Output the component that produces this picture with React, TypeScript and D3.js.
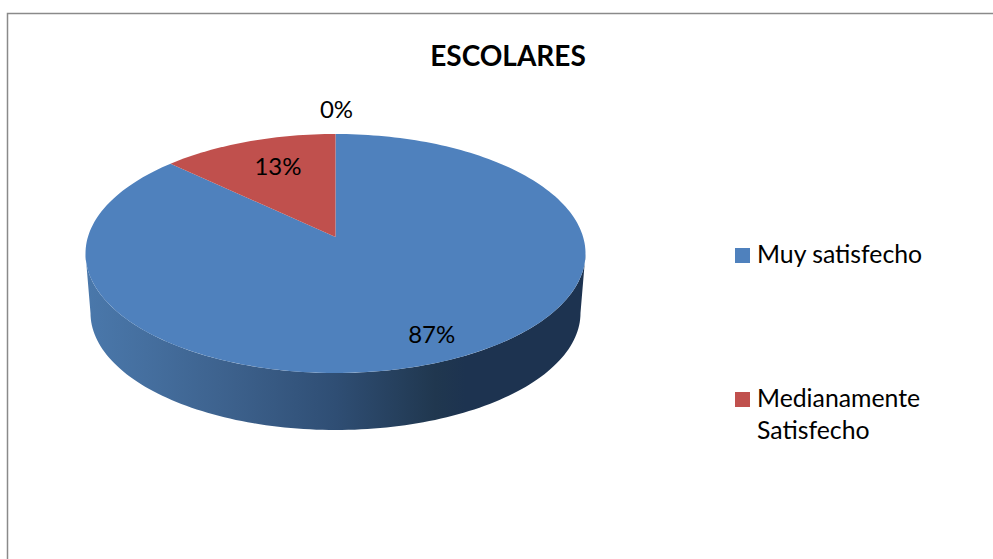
import React from "react";
import * as d3 from "d3";

const categories = ["Muy satisfecho", "Medianamente Satisfecho", ""];
const values = [87, 13, 0];
const colors = ["#4f81bd", "#c0504d", "#9bbb59"];
const labelRadius = [0.83, 0.62, 1.26];
const labelShiftX = [5, -1, 1];
const labelShiftY = [-3, -10, -3];
const legendRows = [["Muy satisfecho"], ["Medianamente", "Satisfecho"]];
const legendColors = ["#4f81bd", "#c0504d"];
const sideStops: [number, string][] = [
  [0, "#4a78ab"],
  [0.12, "#456f9f"],
  [0.3, "#3c608b"],
  [0.5, "#2f4e74"],
  [0.7, "#20374f"],
  [0.76, "#1d3350"],
  [1, "#1d3350"],
];

const FONT = "Lato, Carlito, 'Open Sans', sans-serif";
const cx = 335.5, cy = 253.5, rx = 250, ry = 119.5;
const skew = (237 - cy) / ry;
const botRx = 245, botRy = 117, botCy = 313;

function project(u: number, v: number): [number, number] {
  const d = 1 + skew * v;
  return [cx + (rx * u * Math.sqrt(1 - skew * skew)) / d, cy + (ry * (v + skew)) / d];
}
function polar(angle: number, rho: number): [number, number] {
  return project(rho * Math.sin(angle), -rho * Math.cos(angle));
}

export default function App() {
  const pie = d3.pie<number>().sort(null).startAngle(0).endAngle(2 * Math.PI)(values);
  const line = d3.line();
  const slices = pie.map((s) => {
    const n = Math.max(2, Math.ceil(Math.abs(s.endAngle - s.startAngle) * 40));
    const pts = d3.range(n + 1).map((i) => polar(s.startAngle + ((s.endAngle - s.startAngle) * i) / n, 1));
    return line([polar(0, 0), ...pts]) + "Z";
  });
  const lower = d3.range(0, 121).map((i) => (Math.PI * i) / 120);
  const side =
    line([
      ...lower.map((t) => [cx + rx * Math.cos(t), cy + ry * Math.sin(t)] as [number, number]),
      ...lower.slice().reverse().map((t) => [cx + botRx * Math.cos(t), botCy + botRy * Math.sin(t)] as [number, number]),
    ]) + "Z";

  const labels = pie.map((s, i) => {
    const mid = (s.startAngle + s.endAngle) / 2;
    const [x, y] = polar(mid, labelRadius[i]);
    return { x: x + labelShiftX[i], y: y + labelShiftY[i], text: `${values[i]}%` };
  });

  return (
    <svg width={993} height={559} style={{ position: "absolute", left: 0, top: 0 }} fontFamily={FONT}>
      <defs>
        <linearGradient id="side" x1={cx - rx} x2={cx + rx} y1={0} y2={0} gradientUnits="userSpaceOnUse">
          {sideStops.map(([o, c]) => (
            <stop key={o} offset={o} stopColor={c} />
          ))}
        </linearGradient>
      </defs>
      <rect width={993} height={559} fill="#fff" />
      <path d="M7.5 559V13.5H993" fill="none" stroke="#8a8a8a" strokeWidth={1.5} />
      <text x={508} y={66} textAnchor="middle" fontSize={28} fontWeight={700} fill="#000">ESCOLARES</text>
      <path d={side} fill="url(#side)" />
      {slices.map((d, i) => values[i] > 0 && <path key={categories[i] + i} d={d} fill={colors[i]} />)}
      {labels.map((l) => (
        <text key={l.text} x={l.x} y={l.y} textAnchor="middle" dominantBaseline="central" fontSize={24} fill="#000">{l.text}</text>
      ))}
      {legendRows.map((rows, i) => {
        const base = i === 0 ? 263 : 407;
        return (
          <g key={i}>
            <rect x={735} y={base - 15} width={15} height={15} fill={legendColors[i]} />
            {rows.map((r, j) => (
              <text key={r} x={757} y={base + j * 32} fontSize={24.8} fill="#000">{r}</text>
            ))}
          </g>
        );
      })}
    </svg>
  );
}
